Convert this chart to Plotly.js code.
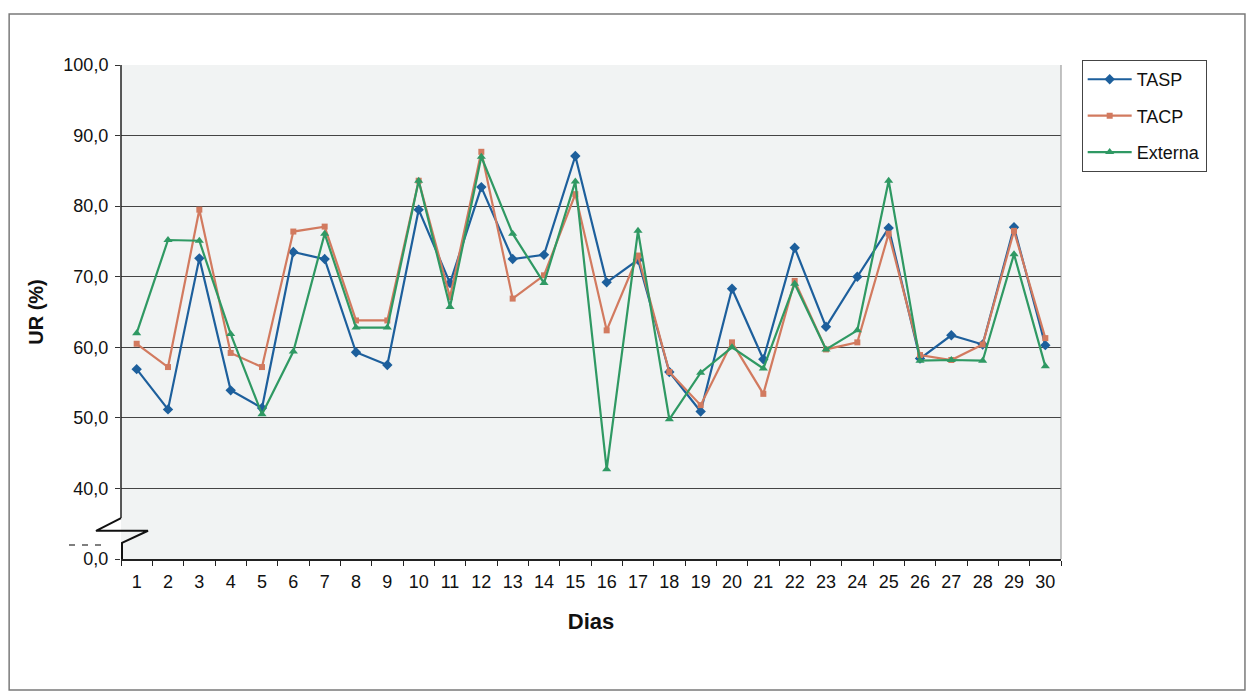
<!DOCTYPE html>
<html>
<head>
<meta charset="utf-8">
<script src="https://cdn.plot.ly/plotly-3.0.1.min.js"></script>
<style>html,body{margin:0;padding:0;background:#fff;}#chart{width:1246px;height:692px;}</style>
</head>
<body>
<div id="chart"></div>
<script>
const dias = ['1','2','3','4','5','6','7','8','9','10','11','12','13','14','15','16','17','18','19','20','21','22','23','24','25','26','27','28','29','30'];
const tasp = [56.9, 51.2, 72.6, 53.9, 51.4, 73.5, 72.5, 59.3, 57.5, 79.5, 69.1, 82.7, 72.5, 73.1, 87.1, 69.2, 72.4, 56.5, 50.9, 68.3, 58.3, 74.1, 62.9, 70.0, 76.9, 58.4, 61.7, 60.4, 77.0, 60.3];
const tacp = [60.5, 57.2, 79.5, 59.2, 57.2, 76.4, 77.1, 63.8, 63.8, 83.6, 67.1, 87.7, 66.9, 70.2, 81.7, 62.4, 73.0, 56.5, 51.8, 60.7, 53.4, 69.4, 59.7, 60.7, 76.1, 58.9, 58.2, 60.4, 76.5, 61.3];
const externa = [62.0, 75.2, 75.1, 61.9, 50.5, 59.4, 76.1, 62.8, 62.8, 83.6, 65.7, 87.0, 76.1, 69.1, 83.5, 42.7, 76.5, 49.8, 56.4, 60.0, 57.0, 69.0, 59.7, 62.4, 83.6, 58.1, 58.2, 58.1, 73.2, 57.3];
const yTickVals = [30, 40, 50, 60, 70, 80, 90, 100];
const yTickText = ['0,0', '40,0', '50,0', '60,0', '70,0', '80,0', '90,0', '100,0'];

const FONT = 'Liberation Sans, Arial, sans-serif';
const cBlue = '#1d5f9c', cOrange = '#d27a5f', cGreen = '#2f9963';

const traces = [
  {name: 'TASP', x: dias, y: tasp, type: 'scatter', mode: 'lines+markers', legendgroup: 'a',
   line: {color: cBlue, width: 2.2}, marker: {symbol: 'diamond', size: 8, color: cBlue}},
  {name: 'TACP', x: dias, y: tacp, type: 'scatter', mode: 'lines+markers', legendgroup: 'b',
   line: {color: cOrange, width: 2.2}, marker: {symbol: 'square', size: 6, color: cOrange}},
  {name: 'Externa', x: dias, y: externa, type: 'scatter', mode: 'lines+markers', legendgroup: 'c',
   line: {color: cGreen, width: 2.2}, marker: {symbol: 'triangle-up', size: 8, color: cGreen}}
];

const layout = {
  width: 1246, height: 692, autosize: false,
  margin: {l: 121, r: 185, t: 65, b: 133},
  paper_bgcolor: '#ffffff', plot_bgcolor: '#f1f3f3',
  font: {family: FONT, size: 18, color: '#111'},
  showlegend: true,
  legend: {x: 1.022, y: 1.01, xanchor: 'left', yanchor: 'top',
    bgcolor: '#ffffff', bordercolor: '#444', borderwidth: 1,
    font: {family: FONT, size: 18, color: '#111'},
    traceorder: 'grouped', tracegroupgap: 10, itemwidth: 44},
  xaxis: {type: 'category', range: [-0.5, 29.5], tickson: 'boundaries',
    showline: true, linecolor: '#222', linewidth: 1.5,
    ticks: 'outside', ticklen: 5, tickcolor: '#222', tickwidth: 1,
    showgrid: false, zeroline: false, ticklabelstandoff: 6,
    tickfont: {family: FONT, size: 18, color: '#111'},
    title: {text: '<b>Dias</b>', font: {family: FONT, size: 22, color: '#111'}, standoff: 22}},
  yaxis: {range: [30, 100], tickmode: 'array', tickvals: yTickVals, ticktext: yTickText,
    showline: false, ticks: 'outside', ticklen: 5, tickcolor: '#333',
    showgrid: true, gridcolor: '#444', gridwidth: 1, zeroline: false,
    ticklabelstandoff: 3,
    tickfont: {family: FONT, size: 18, color: '#111'},
    title: {text: '<b>UR (%)</b>', font: {family: FONT, size: 20, color: '#111'}, standoff: 14}},
  shapes: [
    {type: 'rect', xref: 'paper', yref: 'paper', x0: -0.119, x1: 1.1957, y0: -0.265, y1: 1.103,
     line: {color: '#7a7a7a', width: 1.5}, layer: 'below'},
    {type: 'line', xref: 'paper', yref: 'y', x0: 1, x1: 1, y0: 30, y1: 100,
     line: {color: '#8a8a8a', width: 1}},
    {type: 'line', xref: 'paper', yref: 'y', x0: 0, x1: 0, y0: 35.8, y1: 100,
     line: {color: '#222', width: 1.5}},
    {type: 'path', xref: 'paper', yref: 'y', xsizemode: 'pixel', xanchor: 0,
     path: 'M0,35.8 L-25,34.0 L27,34.0 L1,32.3 L1,30',
     line: {color: '#111', width: 2}},
    {type: 'line', xref: 'paper', yref: 'y', xsizemode: 'pixel', xanchor: 0,
     x0: -52, x1: -17, y0: 32.0, y1: 32.0,
     line: {color: '#555', width: 1.5, dash: '6px,7px'}}
  ]
};

Plotly.newPlot('chart', traces, layout, {displayModeBar: false, staticPlot: true});
</script>
</body>
</html>
